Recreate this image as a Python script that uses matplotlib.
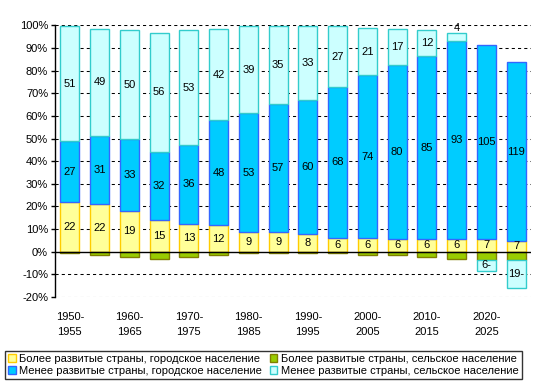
import numpy as np
import matplotlib
matplotlib.use("Agg")
import matplotlib.pyplot as plt
from matplotlib.patches import Patch

plt.rcParams['font.family'] = ['Liberation Sans', 'DejaVu Sans']

# data: contribution to world population growth by group, per 5-year period
periods = ['1950-1955', '1955-1960', '1960-1965', '1965-1970', '1970-1975', '1975-1980',
           '1980-1985', '1985-1990', '1990-1995', '1995-2000', '2000-2005', '2005-2010',
           '2010-2015', '2015-2020', '2020-2025', '2025-2030']
dev_urban = [22, 22, 19, 15, 13, 12, 9, 9, 8, 6, 6, 6, 6, 6, 7, 7]
dev_rural = [-0.5, -1.5, -2.4, -3.4, -2.4, -1.5, -0.5, -0.5, -0.5, -0.5, -1.4, -1.5, -2.4, -3.4, -4.4, -5.4]
less_urban = [27, 31, 33, 32, 36, 48, 53, 57, 60, 68, 74, 80, 85, 93, 105, 119]
less_rural = [51, 49, 50, 56, 53, 42, 39, 35, 33, 27, 21, 17, 12, 4, -6, -19]

labels = ['Более развитые страны, городское население',
          'Менее развитые страны, городское население',
          'Более развитые страны, сельское население',
          'Менее развитые страны, сельское население']

c_yel, e_yel = '#FFFF99', '#FFCC00'
c_grn, e_grn = '#99CC00', '#808000'
c_blu, e_blu = '#00CCFF', '#3366FF'
c_cya, e_cya = '#CCFFFF', '#33CCCC'

du = np.array(dev_urban, float)
dr = np.array(dev_rural, float)
lu = np.array(less_urban, float)
lr = np.array(less_rural, float)

# 100% stacked: share of sum of absolute values
tot = np.abs(du) + np.abs(dr) + np.abs(lu) + np.abs(lr)
p_du = du / tot * 100
p_dr = dr / tot * 100
p_lu = lu / tot * 100
p_lr = lr / tot * 100

x = np.arange(len(periods))
w = 0.64

fig = plt.figure(figsize=(5.35, 3.89), dpi=100)
ax = fig.add_axes([0.1028, 0.2365, 0.8897, 0.6985])

ax.set_axisbelow(True)
for v in range(-20, 101, 10):
    if v != 0:
        ax.axhline(v, color='black', lw=0.75, ls=(0, (3, 3)), zorder=0)

lw = 1.0
ax.bar(x, p_du, w, color=c_yel, edgecolor=e_yel, lw=lw, zorder=2)
ax.bar(x, p_lu, w, bottom=p_du, color=c_blu, edgecolor=e_blu, lw=lw, zorder=2)
pos_lr = np.where(p_lr > 0, p_lr, 0)
neg_lr = np.where(p_lr < 0, p_lr, 0)
top_lu = p_du + p_lu
ax.bar(x, p_dr, w, color=c_grn, edgecolor=e_grn, lw=lw, zorder=2)
for i in range(len(x)):
    if p_lr[i] > 0:
        ax.bar(x[i], p_lr[i], w, bottom=top_lu[i], color=c_cya, edgecolor=e_cya, lw=lw, zorder=2)
    else:
        ax.bar(x[i], p_lr[i], w, bottom=p_dr[i], color=c_cya, edgecolor=e_cya, lw=lw, zorder=2)

ax.axhline(0, color='black', lw=1.0, zorder=3)

# value labels
fs = 8
for i in range(len(x)):
    ax.text(x[i], p_du[i] / 2, str(dev_urban[i]), ha='center', va='center', fontsize=fs, zorder=4)
    ax.text(x[i], p_du[i] + p_lu[i] / 2, str(less_urban[i]), ha='center', va='center', fontsize=fs, zorder=4)
    if p_lr[i] > 0:
        yc = top_lu[i] + p_lr[i] / 2
        if p_lr[i] < 6:
            yc = top_lu[i] + p_lr[i] + 2
        ax.text(x[i], yc, str(less_rural[i]), ha='center', va='center', fontsize=fs, zorder=4)
    else:
        ax.text(x[i], p_dr[i] + p_lr[i] / 2, str(abs(less_rural[i])) + '-', ha='center', va='center',
                fontsize=fs, zorder=4)

ax.set_xlim(-0.5, 15.5)
ax.set_ylim(-20, 100)
ax.set_yticks(range(-20, 101, 10))
ax.set_yticklabels([f'{v}%' for v in range(-20, 101, 10)], fontsize=fs)
ax.set_xticks(x[::2])
ax.set_xticklabels([p.replace('-', '-\n') for p in periods[::2]], fontsize=fs, linespacing=1.6)
ax.tick_params(axis='x', length=0, pad=11)
ax.tick_params(axis='y', length=3, width=1, pad=2, color='black')
for s in ['top', 'right', 'bottom']:
    ax.spines[s].set_visible(False)
ax.spines['left'].set_linewidth(1.0)

handles = [Patch(facecolor=c_yel, edgecolor=e_yel), Patch(facecolor=c_blu, edgecolor=e_blu),
           Patch(facecolor=c_grn, edgecolor=e_grn), Patch(facecolor=c_cya, edgecolor=e_cya)]
leg = fig.legend(handles, labels, ncol=2, loc='center', bbox_to_anchor=(0.0093, 0.0206, 0.966, 0.082),
                 mode='expand', fontsize=fs, frameon=True, fancybox=False, edgecolor='black',
                 handlelength=0.7, handleheight=0.7, handletextpad=0.3, labelspacing=0.2,
                 borderpad=0.3, borderaxespad=0)
leg.get_frame().set_linewidth(1.0)

fig.savefig('out.png', dpi=100)
